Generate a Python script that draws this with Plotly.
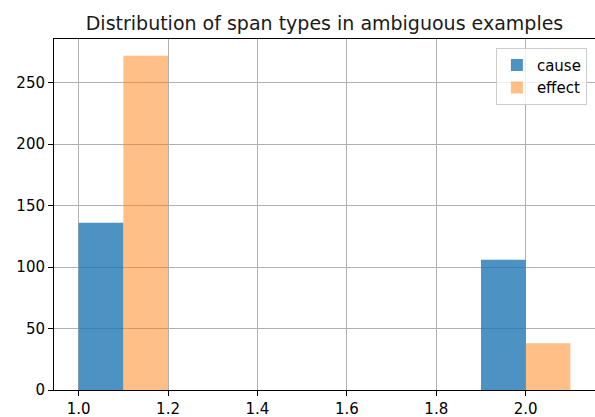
import plotly.graph_objects as go

# bin centres of the two occupied bins, counts per span type
bin_centers = [1.1, 2.0]
cause_counts = [136, 106]
effect_counts = [272, 38]
series_names = ["cause", "effect"]
x_ticks = [1.0, 1.2, 1.4, 1.6, 1.8, 2.0]
y_ticks = [0, 50, 100, 150, 200, 250]

FONT = "DejaVu Sans, Verdana, sans-serif"
GRID = "#b0b0b0"

fig = go.Figure()
fig.add_bar(
    x=bin_centers, y=cause_counts, name=series_names[0],
    width=0.1, offset=-0.1,
    marker=dict(color="rgba(31,119,180,0.8)", line=dict(width=0)),
)
fig.add_bar(
    x=bin_centers, y=effect_counts, name=series_names[1],
    width=0.1, offset=0.0,
    marker=dict(color="rgba(255,127,14,0.5)", line=dict(width=0)),
)

axis_common = dict(
    showline=True, linecolor="black", linewidth=1, mirror=True,
    ticks="outside", ticklen=5, tickwidth=1, tickcolor="black",
    showgrid=True, gridcolor=GRID, gridwidth=1, zeroline=False,
    tickfont=dict(family=FONT, size=15, color="black"),
)

fig.update_layout(
    width=595, height=417,
    margin=dict(l=54, r=0, t=39, b=27),
    paper_bgcolor="white", plot_bgcolor="white",
    font=dict(family=FONT, color="black"),
    barmode="overlay",
    title=dict(
        text="Distribution of span types in ambiguous examples",
        x=0.5, xref="paper", xanchor="center",
        y=1 - 23 / 417, yref="container", yanchor="middle",
        font=dict(family=FONT, size=19, color="#1a1a1a"),
    ),
    xaxis=dict(range=[0.945, 2.155], tickvals=x_ticks, tickformat=".1f", **axis_common),
    yaxis=dict(range=[0, 285.6], tickvals=y_ticks, **axis_common),
    legend=dict(
        x=0.985, xanchor="right", y=0.975, yanchor="top",
        bgcolor="rgba(255,255,255,0.8)", bordercolor="#cccccc", borderwidth=1,
        font=dict(family=FONT, size=15, color="black"),
        tracegroupgap=0,
    ),
)

# drop the default page margin so the figure sits at the window's corner
fig.write_html(
    "out.html",
    config={"displayModeBar": False},
    post_script="document.body.style.margin='0';document.body.style.overflow='hidden';",
)
